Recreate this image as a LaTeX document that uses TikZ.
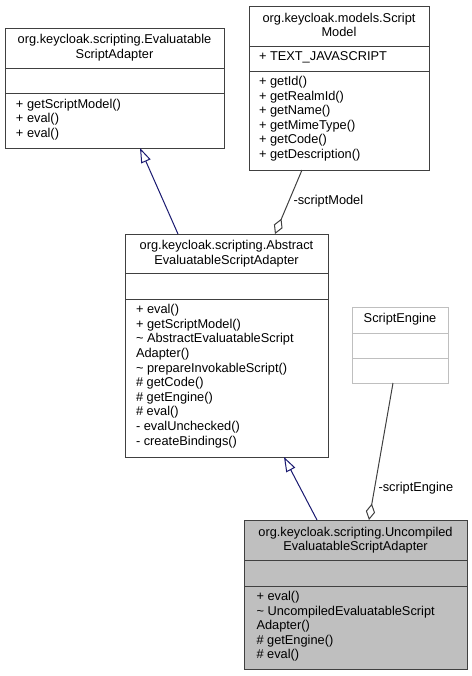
\documentclass[tikz,border=0pt]{standalone}
\usepackage{fontspec}
\setmainfont{Liberation Sans}
\usetikzlibrary{arrows.meta}
\definecolor{edgegrey}{HTML}{404040}
\definecolor{boxgrey}{HTML}{BFBFBF}
\definecolor{inhblue}{HTML}{191970}
\tikzset{every picture/.style={line width=0.75pt}}

\begin{document}
\begin{tikzpicture}[x=0.75pt,y=0.75pt,yscale=-1,xscale=1,
  classbox/.style={draw=edgegrey, fill=white, inner sep=0pt, outer sep=0pt},
  umltext/.style={inner sep=0pt, font=\fontsize{9.6}{10.95}\selectfont},
  classtitle/.style={umltext, align=center},
  members/.style={umltext, align=left, anchor=north west},
  inherit/.style={draw=inhblue, -{Triangle[open, length=11pt, width=7.5pt]}},
  aggreg/.style={draw=edgegrey, -{Diamond[open, length=12.5pt, width=7pt]}}]
\useasboundingbox (0,0) rectangle (472,676);

%Shape: Rectangle (EvaluatableScriptAdapter)
\node [classbox, minimum width=164.25pt, minimum height=90pt] (evalAdapter) at (114.5,88) {};
\draw [edgegrey] (5,68) -- (224,68) ;
\draw [edgegrey] (5,93) -- (224,93) ;
%Shape: Rectangle (ScriptModel)
\node [classbox, minimum width=135pt, minimum height=123pt] (scriptModel) at (339,88) {};
\draw [edgegrey] (249,46) -- (429,46) ;
\draw [edgegrey] (249,71) -- (429,71) ;
%Shape: Rectangle (AbstractEvaluatableScriptAdapter)
\node [classbox, minimum width=152.25pt, minimum height=167.25pt] (absAdapter) at (226.5,345.5) {};
\draw [edgegrey] (125,273) -- (328,273) ;
\draw [edgegrey] (125,299) -- (328,299) ;
%Shape: Rectangle (ScriptEngine)
\node [classbox, draw=boxgrey, minimum width=72pt, minimum height=57pt] (scriptEngine) at (400,345) {};
\draw [boxgrey] (352,333) -- (448,333) ;
\draw [boxgrey] (352,358) -- (448,358) ;
%Shape: Rectangle (UncompiledEvaluatableScriptAdapter)
\node [classbox, fill=boxgrey, minimum width=167.25pt, minimum height=111.75pt] (uncAdapter) at (355.5,594.5) {};
\draw [edgegrey] (244,560) -- (467,560) ;
\draw [edgegrey] (244,586) -- (467,586) ;

%Straight Lines (inheritance)
\draw [inherit] ([xshift=-36.375pt]absAdapter.north) -- ([xshift=19.125pt]evalAdapter.south) ;
\draw [inherit] ([xshift=-28.875pt]uncAdapter.north) -- ([xshift=43.125pt]absAdapter.south) ;
%Straight Lines (aggregation)
\draw [aggreg] ([xshift=-27.75pt]scriptModel.south) -- ([xshift=36.375pt]absAdapter.north) ;
\draw [aggreg] ([xshift=-5.25pt]scriptEngine.south) -- ([xshift=10.125pt]uncAdapter.north) ;

% Text Node
\node [classtitle] (evalTitle) at (114.5,47.5) {org.keycloak.scripting.Evaluatable\\ScriptAdapter};
% Text Node
\node [members] (evalOps) at (15.5,98.3) {+ getScriptModel()\\+ eval()\\+ eval()};
% Text Node
\node [classtitle] (modelTitle) at (339,25) {org.keycloak.models.Script\\Model};
% Text Node
\node [umltext, anchor=west] (modelAttr) at (258.5,57.5) {+ TEXT\_JAVASCRIPT};
% Text Node
\node [members] (modelOps) at (258.5,75.7) {+ getId()\\+ getRealmId()\\+ getName()\\+ getMimeType()\\+ getCode()\\+ getDescription()};
% Text Node
\node [classtitle] (absTitle) at (226.5,253.5) {org.keycloak.scripting.Abstract\\EvaluatableScriptAdapter};
% Text Node
\node [members] (absOps) at (135.5,304) {+ eval()\\+ getScriptModel()\\\textasciitilde{} AbstractEvaluatableScript\\Adapter()\\\textasciitilde{} prepareInvokableScript()\\\# getCode()\\\# getEngine()\\\# eval()\\- evalUnchecked()\\- createBindings()};
% Text Node
\node [classtitle] (engineTitle) at (400,319.5) {ScriptEngine};
% Text Node
\node [classtitle] (uncTitle) at (355.5,540) {org.keycloak.scripting.Uncompiled\\EvaluatableScriptAdapter};
% Text Node
\node [members] (uncOps) at (256,590.7) {+ eval()\\\textasciitilde{} UncompiledEvaluatableScript\\Adapter()\\\# getEngine()\\\# eval()};
% Text Node
\node [umltext, anchor=west] (modelLbl) at (293,201) {-scriptModel};
% Text Node
\node [umltext, anchor=west] (engineLbl) at (378,488) {-scriptEngine};

\end{tikzpicture}
\end{document}
